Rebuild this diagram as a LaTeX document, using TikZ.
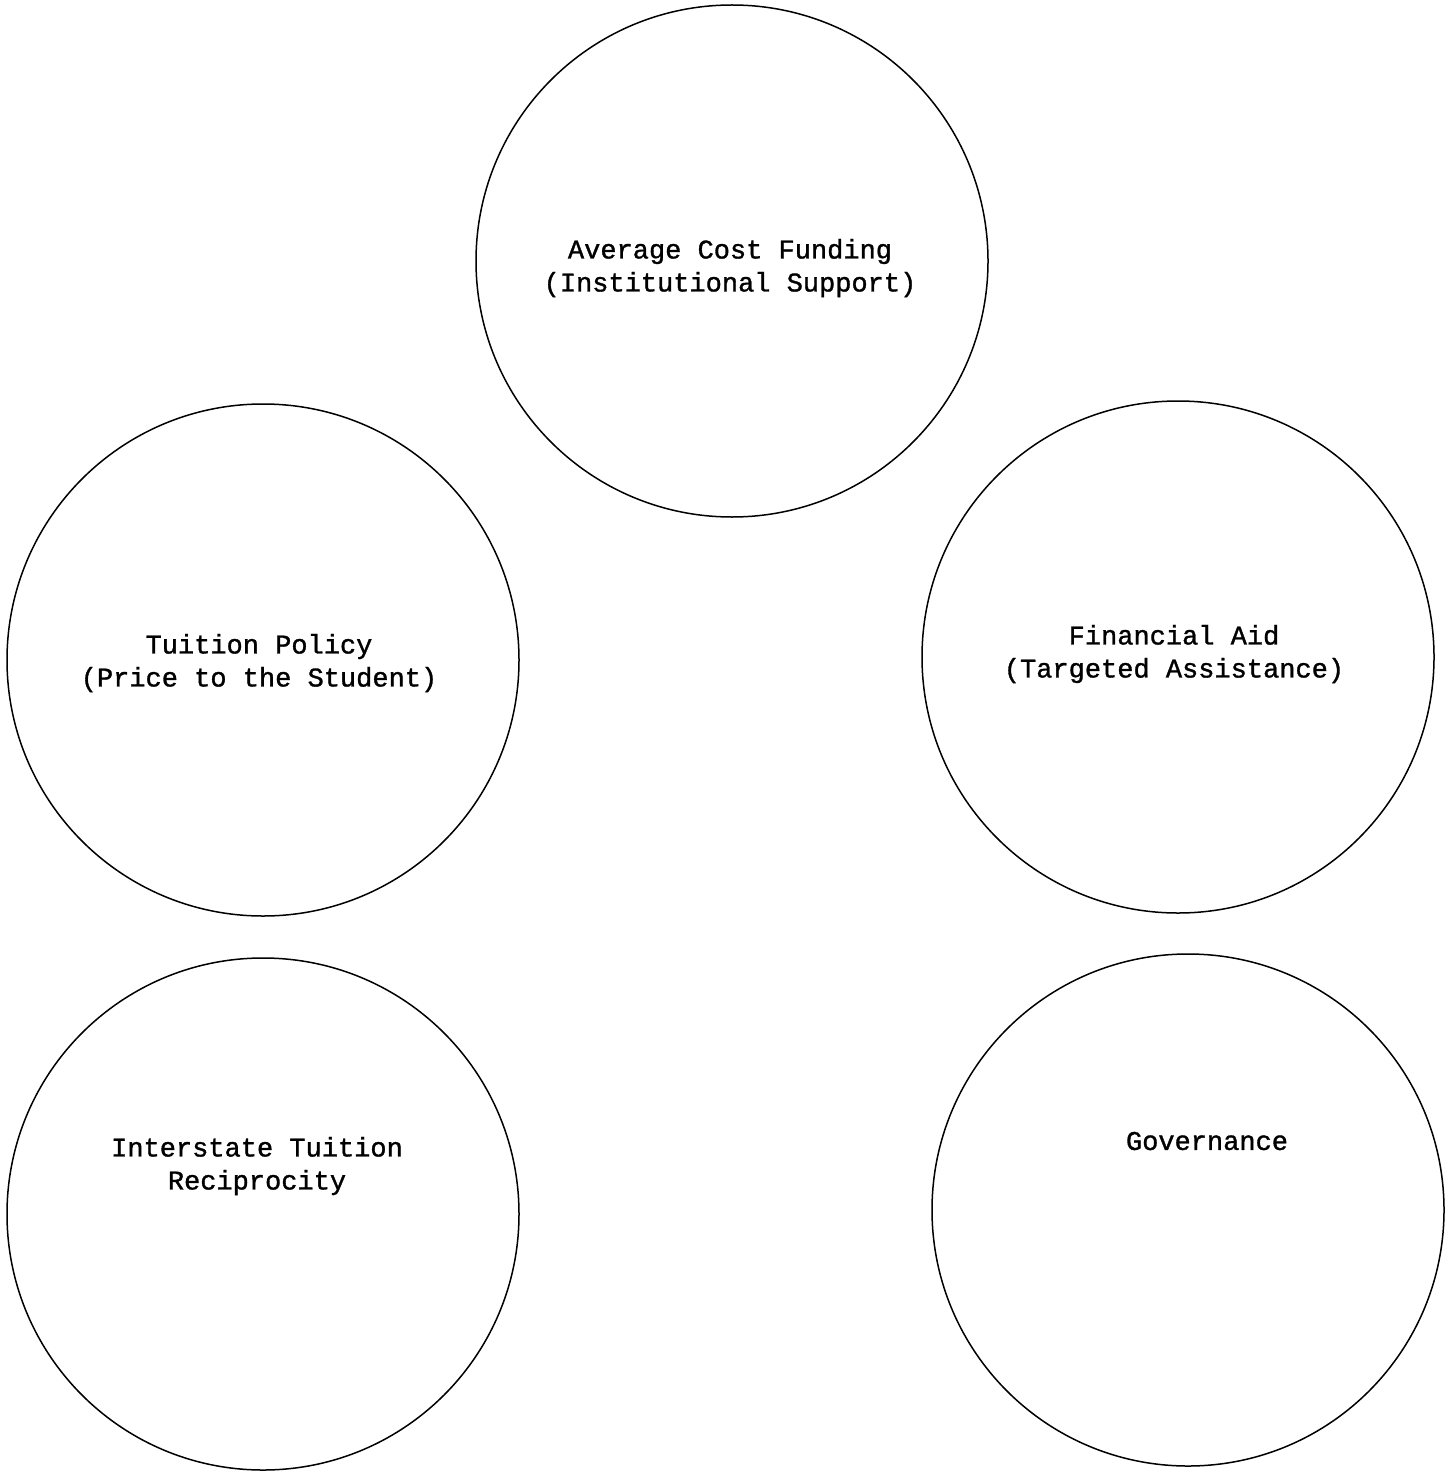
\documentclass[tikz,border=0pt]{standalone}
\usepackage{fontspec}
\newfontfamily\typewriter[FakeBold=1.2]{Liberation Mono}

\tikzset{every picture/.style={line width=0.75pt}}
\tikzset{
  disc/.style={draw, circle, minimum size=256pt, inner sep=0pt},
  label/.style={align=center, font=\typewriter\fontsize{13.5}{16.5}\selectfont, inner sep=0.75pt}
}

\begin{document}
\begin{tikzpicture}[x=0.5pt,y=0.5pt,yscale=-1,xscale=1]
\useasboundingbox (0,0) rectangle (1450,1471);

%Shape: Circle
\node [disc] (cost) at (732,261) {};
%Shape: Circle
\node [disc] (tuition) at (263,660) {};
%Shape: Circle
\node [disc] (aid) at (1178,657) {};
%Shape: Circle
\node [disc] (recip) at (263,1214) {};
%Shape: Circle
\node [disc] (gov) at (1188,1210) {};

% Text Node
\node [label] (costtext) at (730,268) {Average Cost Funding\\(Institutional Support)};
% Text Node
\node [label] (tuitiontext) at (259,663) {Tuition Policy\\(Price to the Student)};
% Text Node
\node [label] (aidtext) at (1174,654) {Financial Aid\\(Targeted Assistance)};
% Text Node
\node [label] (reciptext) at (257,1166) {Interstate Tuition\\Reciprocity};
% Text Node
\node [label] (govtext) at (1207,1141) {Governance};

\end{tikzpicture}
\end{document}
